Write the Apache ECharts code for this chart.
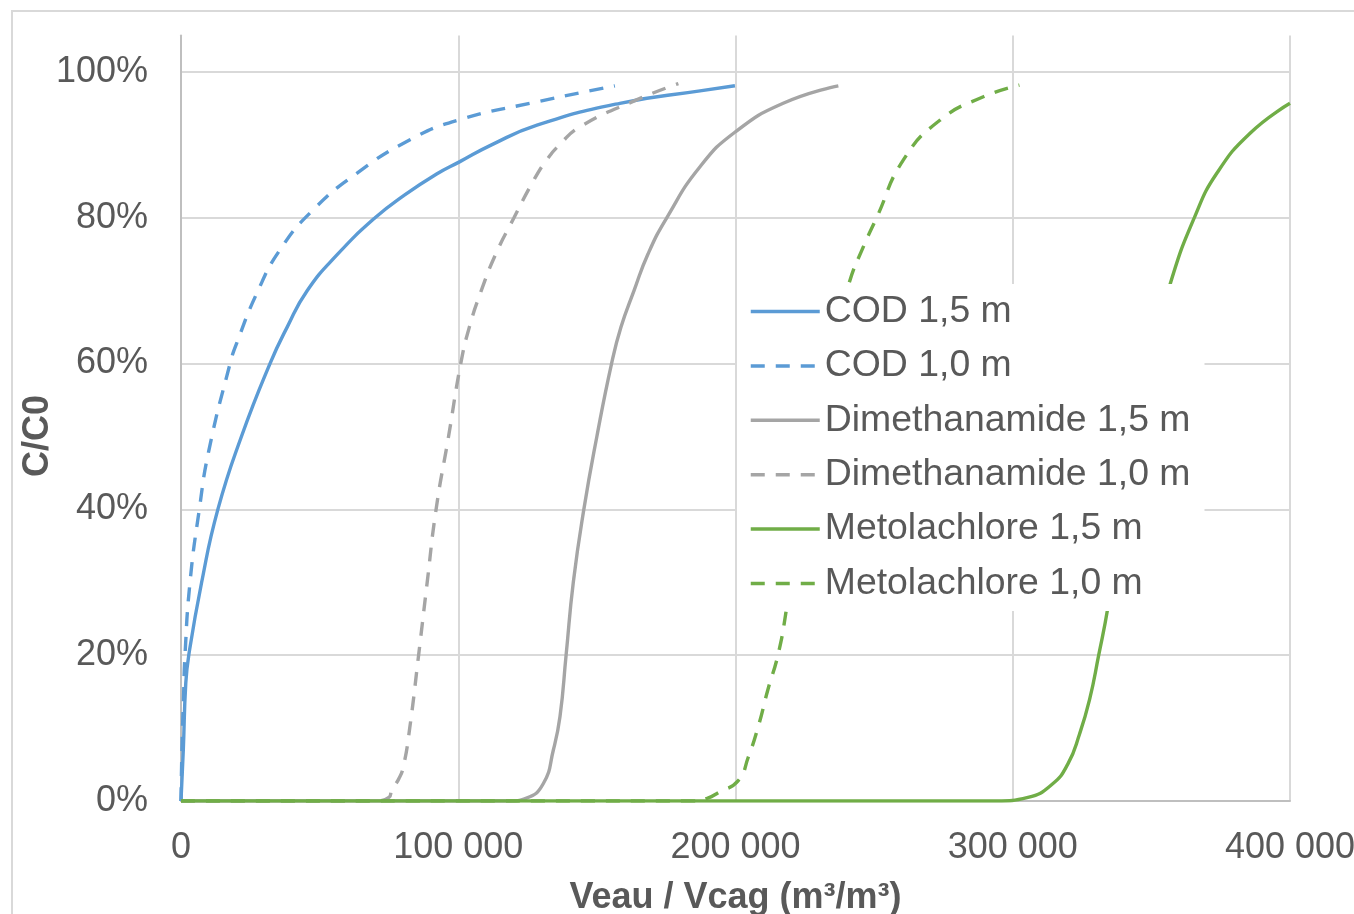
<!DOCTYPE html>
<html lang="fr">
<head>
    <meta charset="UTF-8">
    <title>C/C0</title>
    <script src="https://cdn.jsdelivr.net/npm/echarts@6.0.0/dist/echarts.min.js"></script>
    <style>
        body {margin: 0; background: #fff;}
    </style>
</head>
<body>
<div id="myChart" style="width: 1354px;height: 914px;"></div>
<script>
    // x : Veau / Vcag (m3/m3), y : C/C0
    var codLong = [[0, 0], [830, 0.07], [1700, 0.16], [2800, 0.2], [7450, 0.3], [13300, 0.4], [21800, 0.5],
        [32100, 0.6], [38300, 0.65], [45500, 0.7], [56500, 0.75], [70000, 0.8], [80200, 0.83], [92200, 0.86],
        [100600, 0.877], [112000, 0.9], [128400, 0.927], [158300, 0.957], [187200, 0.974], [199800, 0.981]];
    var codShort = [[0, 0], [400, 0.08], [900, 0.14], [1440, 0.2], [3250, 0.3], [6600, 0.4], [10000, 0.48],
        [17700, 0.6], [20100, 0.628], [27300, 0.696], [35700, 0.756], [47700, 0.811], [63400, 0.861],
        [82600, 0.907], [100000, 0.934], [128400, 0.959], [156500, 0.981]];
    var dimLong = [[0, 0], [118000, 0], [124600, 0.004], [130700, 0.024], [134300, 0.07], [136700, 0.116],
        [138900, 0.2], [141500, 0.3], [145300, 0.4], [150000, 0.5], [155300, 0.6], [158700, 0.65],
        [163400, 0.7], [168400, 0.75], [175200, 0.8], [187200, 0.87], [200000, 0.918], [217200, 0.957],
        [237100, 0.981]];
    var dimShort = [[0, 0], [70000, 0], [75000, 0.005], [76000, 0.015], [78500, 0.03], [80200, 0.047],
        [82500, 0.1], [85700, 0.2], [88800, 0.3], [92000, 0.4], [96500, 0.5], [100900, 0.6], [104000, 0.65],
        [108300, 0.7], [113500, 0.75], [120100, 0.8], [127000, 0.85], [132000, 0.88], [136500, 0.9],
        [144000, 0.925], [164500, 0.962], [179400, 0.984]];
    var metLong = [[0, 0], [294000, 0], [305500, 0.005], [314200, 0.023], [319900, 0.051], [324100, 0.092],
        [327700, 0.139], [331000, 0.2], [334300, 0.265], [339800, 0.4], [344200, 0.5], [349300, 0.6],
        [357000, 0.712], [365700, 0.802], [373600, 0.861], [385600, 0.916], [400000, 0.957]];
    var metShort = [[0, 0], [185000, 0], [190000, 0.004], [193800, 0.0115], [201000, 0.028], [204600, 0.06],
        [208200, 0.102], [211700, 0.153], [215300, 0.2], [218200, 0.259], [223500, 0.4], [227800, 0.5],
        [233000, 0.6], [241100, 0.712], [246100, 0.76], [250900, 0.8], [260500, 0.879], [273800, 0.934],
        [289400, 0.966], [302400, 0.982]];

    var names = ['COD 1,5 m', 'COD 1,0 m', 'Dimethanamide 1,5 m', 'Dimethanamide 1,0 m',
        'Metolachlore 1,5 m', 'Metolachlore 1,0 m'];
    var xLabels = ['0', '100 000', '200 000', '300 000', '400 000'];
    var yLabels = ['0%', '20%', '40%', '60%', '80%', '100%'];

    var blue = '#5B9BD5', grey = '#A5A5A5', green = '#70AD47';
    var font = '"Liberation Sans", Arial, sans-serif';

    function courbe(name, data, color, dashed) {
        return {
            name: name,
            type: 'line',
            data: data,
            symbol: 'none',
            smooth: 0.5,
            itemStyle: {color: color},
            lineStyle: {color: color, width: 3.4, type: dashed ? [14, 11] : 'solid'}
        };
    }

    var myChart = echarts.init(document.getElementById('myChart'));

    var option = {
        backgroundColor: '#fff',
        animation: false,
        grid: {left: 181, right: 64, top: 35.5, bottom: 113, outerBoundsMode: 'none'},
        legend: {
            orient: 'vertical',
            left: 737,
            top: 284,
            padding: [9, 14, 9, 12],
            backgroundColor: '#fff',
            itemWidth: 69,
            itemHeight: 14,
            itemGap: 17.4,
            itemStyle: {opacity: 0},
            lineStyle: {width: 3.5},
            textStyle: {fontSize: 37.4, lineHeight: 37, color: '#595959', fontFamily: font},
            data: names
        },
        xAxis: {
            type: 'value',
            min: 0,
            max: 400000,
            interval: 100000,
            name: 'Veau / Vcag (m³/m³)',
            nameLocation: 'middle',
            nameGap: 79,
            nameTextStyle: {fontSize: 36, fontWeight: 'bold', color: '#595959', fontFamily: font},
            axisLine: {lineStyle: {color: '#bfbfbf', width: 2}},
            axisTick: {show: false},
            axisLabel: {
                margin: 29,
                fontSize: 36,
                color: '#595959',
                fontFamily: font,
                formatter: function (v) {
                    return xLabels[Math.round(v / 100000)];
                }
            },
            splitLine: {lineStyle: {color: '#d9d9d9', width: 2}}
        },
        yAxis: {
            type: 'value',
            min: 0,
            max: 1.05,
            interval: 0.2,
            axisLine: {show: true, lineStyle: {color: '#bfbfbf', width: 2}},
            axisTick: {show: false},
            axisLabel: {
                margin: 33,
                fontSize: 36,
                color: '#595959',
                fontFamily: font,
                showMaxLabel: false,
                formatter: function (v) {
                    var i = v / 0.2;
                    if (Math.abs(i - Math.round(i)) > 1e-6) return '';
                    return yLabels[Math.round(i)];
                }
            },
            splitLine: {showMaxLine: false, lineStyle: {color: '#d9d9d9', width: 2}}
        },
        graphic: [
            {
                type: 'rect',
                shape: {x: 12, y: 11, width: 1400, height: 1000},
                style: {fill: null, stroke: '#d9d9d9', lineWidth: 2},
                silent: true
            },
            {
                type: 'text',
                x: 38.5,
                y: 436,
                rotation: Math.PI / 2,
                style: {
                    text: 'C/C0',
                    fontSize: 36,
                    fontWeight: 'bold',
                    fontFamily: font,
                    fill: '#595959',
                    align: 'center',
                    verticalAlign: 'middle'
                }
            }
        ],
        series: [
            courbe(names[0], codLong, blue, false),
            courbe(names[1], codShort, blue, true),
            courbe(names[2], dimLong, grey, false),
            courbe(names[3], dimShort, grey, true),
            courbe(names[4], metLong, green, false),
            courbe(names[5], metShort, green, true)
        ]
    };

    myChart.setOption(option);
</script>
</body>
</html>
